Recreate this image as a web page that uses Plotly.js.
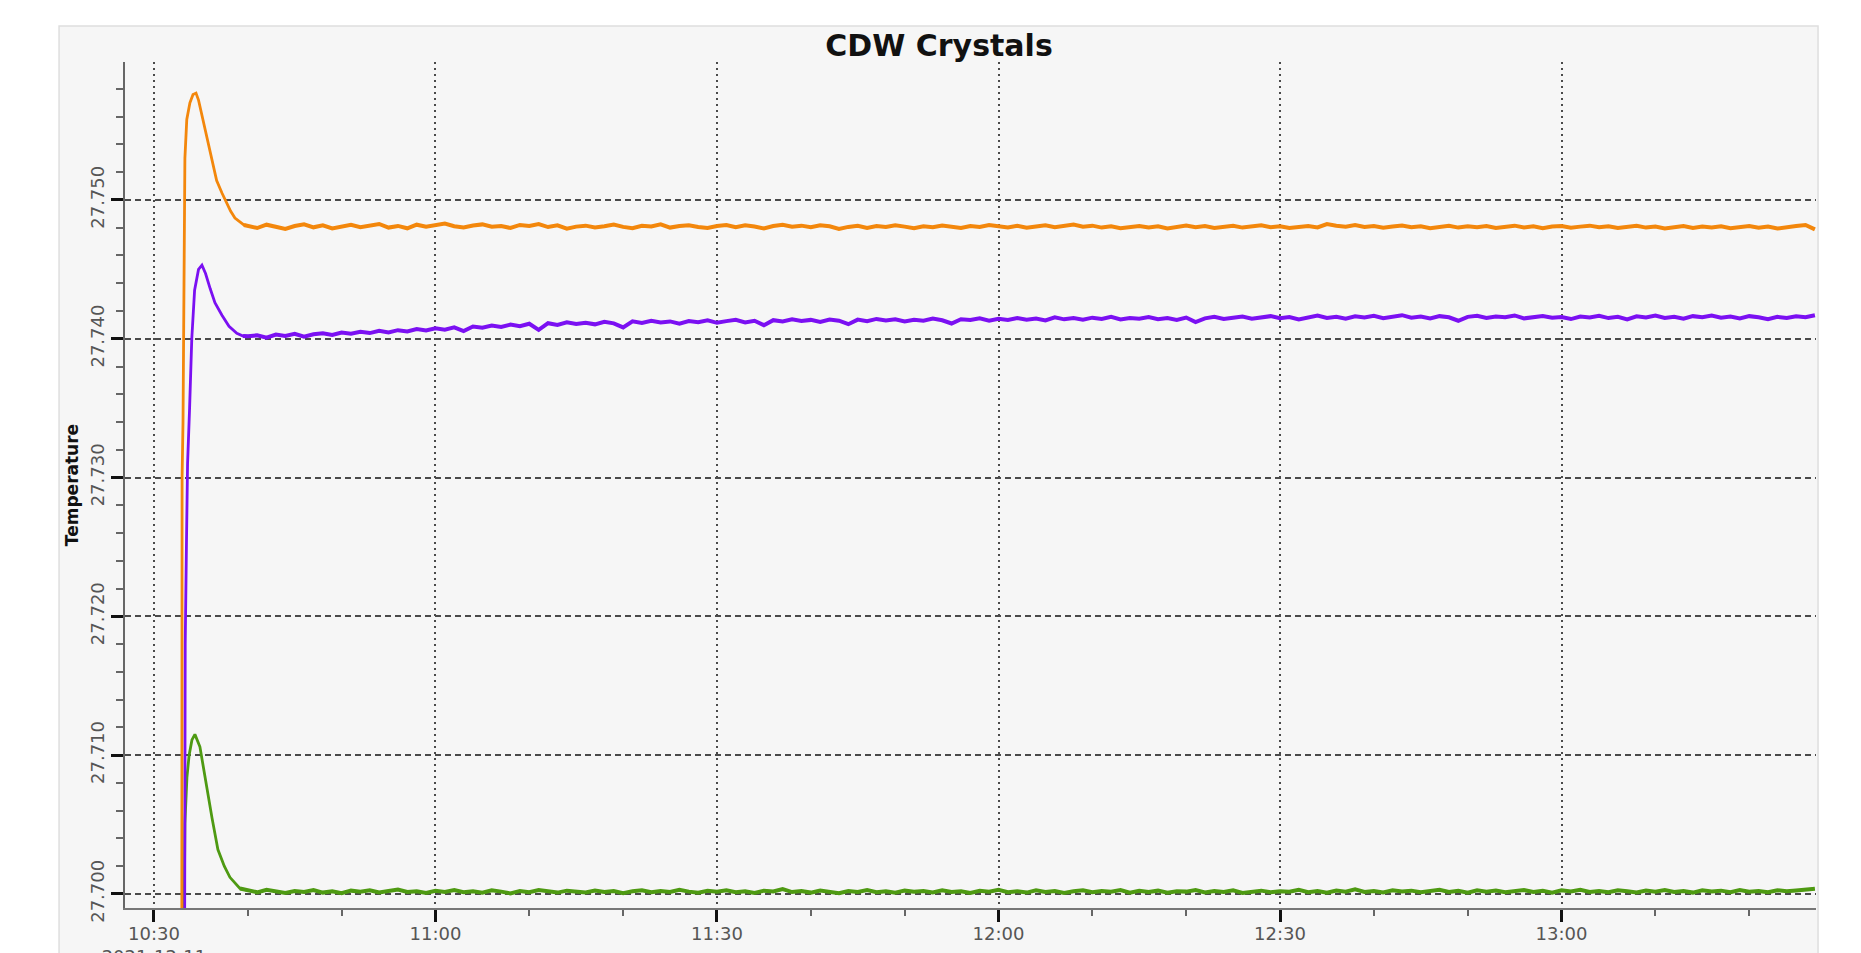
<!DOCTYPE html>
<html>
<head>
<meta charset="utf-8">
<script src="https://cdn.plot.ly/plotly-3.0.1.min.js"></script>
<style>
  html, body { margin: 0; padding: 0; background: #ffffff; }
  #chart { width: 1861px; height: 953px; }
</style>
</head>
<body>
<div id="chart"></div>
<script>
// ---------------- DATA ----------------
const DAY = '2021-12-11';

// Start-up transient (time of day, value)
const orangeRiseTimes = ['10:32:58','10:33:00','10:33:06','10:33:12','10:33:18','10:33:30','10:33:50','10:34:10','10:34:29','10:34:45','10:35:05','10:35:37','10:36:10','10:36:41','10:37:15','10:37:45','10:38:10','10:38:38','10:39:10','10:39:35'];
const orangeRiseValues = [27.6900,27.7300,27.7340,27.7450,27.7530,27.7558,27.7570,27.7576,27.7577,27.7572,27.7562,27.7548,27.7530,27.7514,27.7505,27.7498,27.7492,27.7487,27.7484,27.7482];

const purpleRiseTimes = ['10:33:15','10:33:20','10:33:28','10:33:35','10:33:48','10:34:02','10:34:20','10:34:45','10:35:07','10:35:30','10:36:00','10:36:30','10:37:15','10:38:00','10:38:50','10:39:30'];
const purpleRiseValues = [27.6900,27.7180,27.7253,27.7310,27.7350,27.7400,27.7435,27.7450,27.7453,27.7447,27.7436,27.7426,27.7417,27.7409,27.7404,27.7402];

const greenRiseTimes = ['10:33:08','10:33:14','10:33:18','10:33:31','10:33:45','10:34:03','10:34:22','10:34:54','10:35:26','10:36:11','10:36:49','10:37:30','10:38:06','10:39:10'];
const greenRiseValues = [27.6900,27.7000,27.7051,27.7084,27.7100,27.7111,27.7115,27.7106,27.7084,27.7055,27.7032,27.7020,27.7012,27.7004];

// Steady part: one reading per minute, from 10:40 to 13:27
const steadyStart = '10:40';
const orangeSteady = [
  27.74815,27.74798,27.74822,27.74806,27.74791,27.74812,27.74825,27.74803,27.74817,27.74795,27.74809,27.74821,
  27.74804,27.74818,27.74827,27.74801,27.74813,27.74796,27.74822,27.74808,27.74819,27.74830,27.74811,27.74802,
  27.74816,27.74824,27.74807,27.74813,27.74798,27.74820,27.74812,27.74826,27.74805,27.74817,27.74793,27.74808,
  27.74815,27.74802,27.74811,27.74823,27.74806,27.74797,27.74814,27.74809,27.74825,27.74801,27.74812,27.74818,
  27.74806,27.74799,27.74813,27.74820,27.74804,27.74817,27.74809,27.74795,27.74812,27.74822,27.74807,27.74815,
  27.74803,27.74818,27.74810,27.74791,27.74806,27.74814,27.74799,27.74812,27.74805,27.74817,27.74808,27.74796,
  27.74811,27.74803,27.74816,27.74807,27.74798,27.74813,27.74805,27.74819,27.74810,27.74802,27.74814,27.74800,
  27.74809,27.74817,27.74804,27.74812,27.74823,27.74808,27.74815,27.74801,27.74810,27.74797,27.74806,27.74813,
  27.74802,27.74811,27.74795,27.74808,27.74816,27.74803,27.74812,27.74799,27.74806,27.74814,27.74801,27.74809,
  27.74817,27.74804,27.74811,27.74798,27.74806,27.74813,27.74802,27.74826,27.74815,27.74808,27.74819,27.74805,
  27.74812,27.74800,27.74809,27.74816,27.74803,27.74811,27.74797,27.74808,27.74814,27.74801,27.74810,27.74804,
  27.74813,27.74798,27.74807,27.74815,27.74802,27.74810,27.74796,27.74809,27.74812,27.74800,27.74808,27.74815,
  27.74803,27.74811,27.74798,27.74806,27.74814,27.74801,27.74809,27.74795,27.74807,27.74812,27.74799,27.74808,
  27.74802,27.74810,27.74797,27.74805,27.74813,27.74800,27.74808,27.74794,27.74806,27.74812,27.74820,27.74788
];
const purpleSteady = [
  27.74018,27.74025,27.74008,27.74030,27.74021,27.74035,27.74015,27.74032,27.74040,27.74027,27.74045,27.74036,
  27.74050,27.74041,27.74058,27.74046,27.74062,27.74053,27.74070,27.74060,27.74075,27.74066,27.74082,27.74055,
  27.74088,27.74079,27.74095,27.74085,27.74102,27.74090,27.74108,27.74064,27.74112,27.74100,27.74118,27.74106,
  27.74115,27.74104,27.74122,27.74111,27.74082,27.74126,27.74114,27.74130,27.74118,27.74125,27.74109,27.74128,
  27.74120,27.74133,27.74115,27.74127,27.74136,27.74118,27.74130,27.74098,27.74134,27.74125,27.74140,27.74128,
  27.74136,27.74121,27.74139,27.74130,27.74105,27.74138,27.74127,27.74143,27.74132,27.74140,27.74124,27.74137,
  27.74130,27.74145,27.74133,27.74110,27.74141,27.74135,27.74148,27.74131,27.74144,27.74136,27.74150,27.74138,
  27.74146,27.74132,27.74155,27.74140,27.74149,27.74137,27.74152,27.74143,27.74158,27.74139,27.74150,27.74144,
  27.74156,27.74141,27.74149,27.74135,27.74153,27.74120,27.74147,27.74158,27.74142,27.74151,27.74160,27.74145,
  27.74152,27.74163,27.74148,27.74157,27.74140,27.74155,27.74168,27.74150,27.74159,27.74145,27.74162,27.74153,
  27.74165,27.74148,27.74158,27.74170,27.74152,27.74160,27.74146,27.74163,27.74155,27.74130,27.74158,27.74166,
  27.74150,27.74161,27.74155,27.74168,27.74147,27.74159,27.74164,27.74151,27.74157,27.74142,27.74160,27.74153,
  27.74165,27.74149,27.74158,27.74140,27.74162,27.74154,27.74167,27.74150,27.74159,27.74145,27.74163,27.74156,
  27.74168,27.74152,27.74160,27.74147,27.74163,27.74155,27.74141,27.74158,27.74150,27.74162,27.74155,27.74170
];
const greenSteady = [
  27.70025,27.70012,27.70030,27.70018,27.70008,27.70022,27.70015,27.70028,27.70010,27.70020,27.70005,27.70024,
  27.70016,27.70027,27.70011,27.70021,27.70032,27.70014,27.70019,27.70007,27.70023,27.70015,27.70028,27.70012,
  27.70020,27.70009,27.70026,27.70017,27.70004,27.70022,27.70013,27.70029,27.70016,27.70010,27.70024,27.70018,
  27.70011,27.70025,27.70015,27.70021,27.70006,27.70019,27.70027,27.70012,27.70022,27.70014,27.70030,27.70017,
  27.70009,27.70023,27.70016,27.70026,27.70012,27.70020,27.70008,27.70024,27.70018,27.70035,27.70014,27.70021,
  27.70010,27.70025,27.70017,27.70006,27.70022,27.70015,27.70028,27.70012,27.70020,27.70009,27.70024,27.70016,
  27.70021,27.70011,27.70027,27.70014,27.70019,27.70007,27.70023,27.70016,27.70030,27.70013,27.70020,27.70010,
  27.70026,27.70015,27.70022,27.70008,27.70019,27.70027,27.70012,27.70021,27.70016,27.70029,27.70010,27.70023,
  27.70014,27.70024,27.70009,27.70020,27.70017,27.70028,27.70011,27.70022,27.70015,27.70026,27.70008,27.70019,
  27.70024,27.70012,27.70020,27.70016,27.70030,27.70013,27.70021,27.70009,27.70025,27.70017,27.70033,27.70014,
  27.70022,27.70011,27.70027,27.70018,27.70024,27.70013,27.70020,27.70031,27.70015,27.70023,27.70010,27.70026,
  27.70017,27.70025,27.70012,27.70021,27.70028,27.70014,27.70023,27.70009,27.70026,27.70018,27.70030,27.70015,
  27.70022,27.70013,27.70027,27.70019,27.70011,27.70025,27.70016,27.70029,27.70014,27.70021,27.70010,27.70026,
  27.70018,27.70024,27.70012,27.70028,27.70016,27.70022,27.70013,27.70027,27.70019,27.70025,27.70031,27.70038
];

// Axis ticks
const xTickTimes = ['10:30','11:00','11:30','12:00','12:30','13:00'];
const xTickLabels = ['10:30<br>2021-12-11','11:00','11:30','12:00','12:30','13:00'];
const yTickValues = [27.700, 27.710, 27.720, 27.730, 27.740, 27.750];
const yTickLabels = ['27.700','27.710','27.720','27.730','27.740','27.750'];

// ---------------- BUILD ----------------
function steadyTimes(start, n) {
  const [h0, m0] = start.split(':').map(Number);
  const out = [];
  for (let i = 0; i < n; i++) {
    const tot = h0 * 60 + m0 + i;
    const h = Math.floor(tot / 60), m = tot % 60;
    out.push(DAY + ' ' + String(h).padStart(2, '0') + ':' + String(m).padStart(2, '0') + ':00');
  }
  return out;
}
const withDay = arr => arr.map(t => DAY + ' ' + t);

function series(riseT, riseV, steadyV, color) {
  const riseX = withDay(riseT);
  const steadyX = steadyTimes(steadyStart, steadyV.length);
  return [
    { // transient: thinner line
      type: 'scatter', mode: 'lines',
      x: riseX.concat(steadyX.slice(0, 1)),
      y: riseV.concat(steadyV.slice(0, 1)),
      line: { color: color, width: 2.8 },
      showlegend: false
    },
    { // steady, noisy band
      type: 'scatter', mode: 'lines',
      x: riseX.slice(-1).concat(steadyX),
      y: riseV.slice(-1).concat(steadyV),
      line: { color: color, width: 4 },
      showlegend: false
    }
  ];
}

const traces = [].concat(
  series(greenRiseTimes, greenRiseValues, greenSteady, '#4e9a12'),
  series(purpleRiseTimes, purpleRiseValues, purpleSteady, '#7b10f2'),
  series(orangeRiseTimes, orangeRiseValues, orangeSteady, '#f3870c')
);

const FONT = 'DejaVu Sans, Verdana, sans-serif';

const layout = {
  width: 1861, height: 953,
  margin: { l: 125, r: 45, t: 62, b: 45, pad: 0 },
  paper_bgcolor: '#ffffff',
  plot_bgcolor: 'rgba(0,0,0,0)',
  font: { family: FONT, color: '#555555', size: 18 },
  title: {
    text: '<b>CDW Crystals</b>',
    font: { family: FONT, size: 30, color: '#111111' },
    xref: 'container', x: 0.5046, xanchor: 'center',
    yref: 'container', y: 1 - 45 / 953, yanchor: 'middle'
  },
  xaxis: {
    type: 'date',
    range: [DAY + ' 10:26:55', DAY + ' 13:27:07'],
    tickmode: 'array',
    tickvals: withDay(xTickTimes),
    ticktext: xTickLabels,
    ticks: 'outside', ticklen: 12, tickwidth: 3, tickcolor: '#111111',
    ticklabelstandoff: -4,
    tickfont: { family: FONT, size: 18, color: '#555555' },
    showline: true, linecolor: '#777777', linewidth: 2,
    showgrid: true, gridcolor: '#4a4a4a', gridwidth: 1.5, griddash: '2px,4px',
    zeroline: false,
    minor: { tickmode: 'linear', tick0: DAY + ' 10:30', dtick: 600000, ticks: 'outside', ticklen: 6, tickwidth: 1.5, tickcolor: '#666666', showgrid: false }
  },
  yaxis: {
    range: [27.69899, 27.75994],
    tickmode: 'array',
    tickvals: yTickValues,
    ticktext: yTickLabels,
    tickangle: -90,
    ticks: 'outside', ticklen: 12, tickwidth: 3, tickcolor: '#111111',
    tickfont: { family: FONT, size: 18, color: '#555555' },
    showline: true, linecolor: '#666666', linewidth: 2,
    showgrid: true, gridcolor: '#4a4a4a', gridwidth: 1.5, griddash: '6px,4px',
    zeroline: false,
    title: { text: '<b>Temperature</b>', font: { family: FONT, size: 17, color: '#111111' }, standoff: 4 },
    minor: { tickmode: 'linear', tick0: 27.700, dtick: 0.002, ticks: 'outside', ticklen: 7, tickwidth: 1.5, tickcolor: '#666666', showgrid: false }
  },
  shapes: [{
    type: 'rect', xref: 'paper', yref: 'paper', layer: 'below',
    x0: -0.039, x1: 1.0012, y0: -0.07, y1: 1.0426,
    fillcolor: '#f6f6f6', line: { color: '#dedede', width: 1.5 }
  }]
};

Plotly.newPlot('chart', traces, layout, { displayModeBar: false });
</script>
</body>
</html>
